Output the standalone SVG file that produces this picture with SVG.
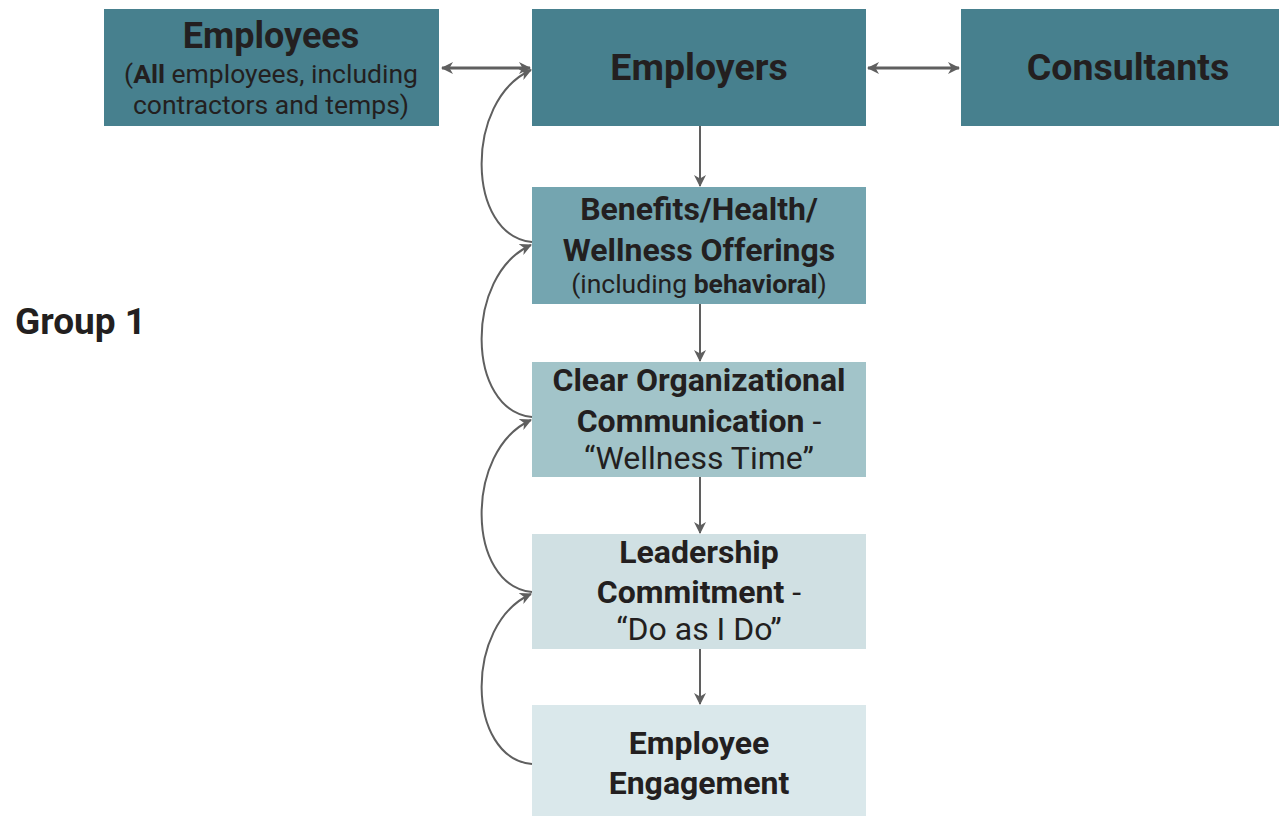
<svg xmlns="http://www.w3.org/2000/svg" width="1279" height="816" viewBox="0 0 1279 816">
  <defs>
    <marker id="head" viewBox="0 0 12 12" refX="11" refY="6" markerWidth="12" markerHeight="12" markerUnits="userSpaceOnUse" orient="auto-start-reverse">
      <path d="M0,0 L12,6 L0,12 L3.5,6 Z" fill="#5f5f5f"/>
    </marker>
    <style>
      .t { font-family: Roboto, "Liberation Sans", sans-serif; fill: #231f20; text-anchor: middle; }
      .b { font-weight: bold; }
      .box { font-size: 32px; }
      .link { fill: none; stroke: #5f5f5f; stroke-width: 2; }
      .dbl { stroke-width: 3; }
    </style>
  </defs>
  <rect width="1279" height="816" fill="#ffffff"/>

  <g id="employees">
    <rect x="104" y="9" width="335" height="117" fill="#47808e"/>
    <text class="t b" x="271" y="48" font-size="36">Employees</text>
    <text class="t" x="271" y="83" font-size="26.5">(<tspan font-weight="bold">All</tspan> employees, including</text>
    <text class="t" x="271" y="114" font-size="26.5">contractors and temps)</text>
  </g>

  <g id="employers">
    <rect x="532" y="9" width="334" height="117" fill="#47808e"/>
    <text class="t b" x="699" y="80" font-size="37.5">Employers</text>
  </g>

  <g id="consultants">
    <rect x="961" y="9" width="318" height="117" fill="#47808e"/>
    <text class="t b" x="1128" y="80" font-size="37.5">Consultants</text>
  </g>

  <g id="benefits">
    <rect x="532" y="187" width="334" height="117" fill="#74a5b0"/>
    <text class="t b box" x="699" y="220">Benefits/Health/</text>
    <text class="t b box" x="699" y="261">Wellness Offerings</text>
    <text class="t" x="699" y="293" font-size="26.5">(including <tspan font-weight="bold">behavioral</tspan>)</text>
  </g>

  <g id="communication">
    <rect x="532" y="362" width="334" height="115" fill="#a2c4c9"/>
    <text class="t b box" x="699" y="391">Clear Organizational</text>
    <text class="t box" x="699" y="432"><tspan font-weight="bold">Communication</tspan> -</text>
    <text class="t box" x="699" y="469">“Wellness Time”</text>
  </g>

  <g id="leadership">
    <rect x="532" y="534" width="334" height="115" fill="#d0e0e3"/>
    <text class="t b box" x="699" y="563">Leadership</text>
    <text class="t box" x="699" y="603"><tspan font-weight="bold">Commitment</tspan> -</text>
    <text class="t box" x="699" y="640">“Do as I Do”</text>
  </g>

  <g id="engagement">
    <rect x="532" y="705" width="334" height="111" fill="#dae8eb"/>
    <text class="t b box" x="699" y="754">Employee</text>
    <text class="t b box" x="699" y="794">Engagement</text>
  </g>

  <g id="group-label">
    <text x="15" y="334" font-family="Roboto, 'Liberation Sans', sans-serif" font-weight="bold" font-size="37" fill="#231f20">Group 1</text>
  </g>

  <g id="connectors">
    <line class="link dbl" x1="442" y1="68" x2="530" y2="68" marker-start="url(#head)" marker-end="url(#head)"/>
    <line class="link dbl" x1="868" y1="68" x2="959" y2="68" marker-start="url(#head)" marker-end="url(#head)"/>
    <line class="link" x1="700" y1="126" x2="700" y2="186" marker-end="url(#head)"/>
    <line class="link" x1="700" y1="304" x2="700" y2="361" marker-end="url(#head)"/>
    <line class="link" x1="700" y1="477" x2="700" y2="533" marker-end="url(#head)"/>
    <line class="link" x1="700" y1="649" x2="700" y2="704" marker-end="url(#head)"/>
    <!-- feedback loops: each stage feeds back into the one above -->
    <path class="link" d="M532,242 C466,236 464,100 531,70" marker-end="url(#head)"/>
    <path class="link" d="M532,417 C466,411 464,275 531,245" marker-end="url(#head)"/>
    <path class="link" d="M532,592 C466,586 464,450 531,420" marker-end="url(#head)"/>
    <path class="link" d="M532,764 C466,758 464,624 531,594" marker-end="url(#head)"/>
  </g>
</svg>
